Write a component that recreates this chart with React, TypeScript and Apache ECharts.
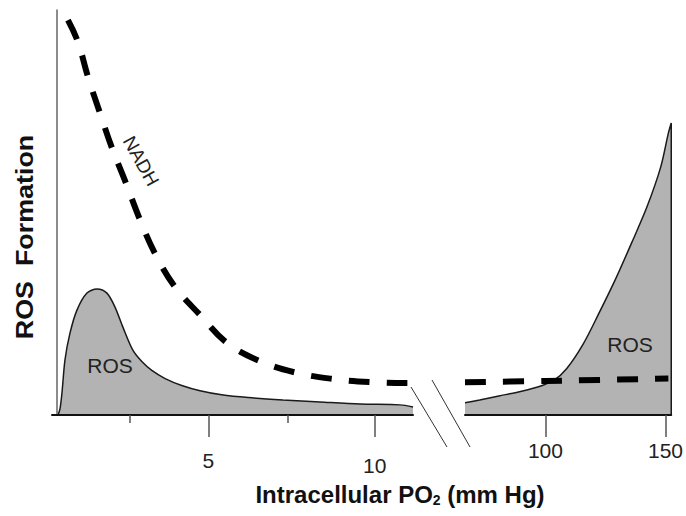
import React, { useEffect, useRef } from "react";
import * as echarts from "echarts";

// Left (low PO2) segment of the broken x axis, mm Hg
const rosLowPo2 = [0.48, 0.54, 0.6, 0.69, 0.84, 1.05, 1.35, 1.65, 1.95, 2.19, 2.43, 2.73, 3.0, 3.3, 3.7, 4.2, 4.75, 5.4, 6.2, 7.24, 8.36, 9.56, 10.76, 11.15];
const rosLowLevel = [0, 1.5, 5.5, 13.6, 20.2, 25.9, 30.1, 31.1, 30.1, 26.7, 21.7, 16.0, 13.2, 11.0, 9.0, 7.3, 6.0, 5.0, 4.3, 3.7, 3.2, 2.7, 2.5, 2.0];

// Right (high PO2) segment
const rosHighPo2 = [66.5, 72.6, 80.6, 88.7, 96.8, 103.6, 108.8, 115.7, 122.1, 129.0, 135.9, 142.3, 148.0, 151.2, 152.4, 152.4];
const rosHighLevel = [3.0, 3.7, 4.7, 5.7, 6.9, 8.6, 11.4, 17.5, 24.9, 33.3, 42.5, 51.4, 61.2, 69.6, 72.1, 0];

const nadhLowPo2 = [0.78, 1.08, 1.38, 1.74, 2.1, 2.52, 2.95, 3.4, 4.0, 4.75, 5.56, 6.55, 7.66, 8.75, 9.92, 11.15, 12.71];
const nadhLowLevel = [97.5, 92.1, 83.5, 74.6, 66.0, 57.3, 48.1, 39.8, 31.6, 24.7, 17.8, 13.3, 10.4, 8.9, 8.1, 7.9, 7.9];

const nadhHighPo2 = [66.5, 100, 151.2];
const nadhHighLevel = [8.1, 8.4, 9.0];

const lowTicks = [5, 10];
const lowMinorTicks = [2.64, 7.39];
const highTicks = [100, 150];

const FONT = 'Arial, "Liberation Sans", Helvetica, sans-serif';

const pairs = (xs: number[], ys: number[]) => xs.map((x, i) => [x, ys[i]]);

export default function App() {
  const ref = useRef<HTMLDivElement>(null);
  useEffect(() => {
    if (!ref.current) return;
    const chart = echarts.init(ref.current, null, { renderer: "svg" });
    const tickStyle = { color: "#555", width: 1.5 };
    chart.setOption({
      animation: false,
      backgroundColor: "#fff",
      grid: [
        { left: 52, top: 10, width: 361, height: 405 },
        { left: 465, top: 10, width: 213, height: 405 },
      ],
      xAxis: [
        {
          type: "value", gridIndex: 0, position: "bottom", min: 0.3, max: 11.15, z: 5,
          axisLine: { show: true, onZero: false, lineStyle: { color: "#111", width: 2 } },
          axisTick: { show: true, customValues: lowTicks, length: 22, lineStyle: tickStyle },
          axisLabel: {
            show: true, customValues: lowTicks, margin: 35, color: "#222", fontSize: 21, fontFamily: FONT,
            formatter: (v: number) => (v === lowTicks[1] ? "{b|" + v + "}" : "{a|" + v + "}"),
            rich: {
              a: { fontSize: 21, fontFamily: FONT, color: "#222" },
              b: { fontSize: 21, fontFamily: FONT, color: "#222", padding: [5, 0, 0, 0] },
            },
          },
          splitLine: { show: false },
        },
        {
          type: "value", gridIndex: 0, position: "bottom", min: 0.3, max: 11.15, z: 5,
          axisLine: { show: false, onZero: false },
          axisTick: { show: true, customValues: lowMinorTicks, length: 8, lineStyle: tickStyle },
          axisLabel: { show: false },
          splitLine: { show: false },
        },
        {
          type: "value", gridIndex: 1, position: "bottom", min: 66.5, max: 152.4, z: 5,
          axisLine: { show: true, onZero: false, lineStyle: { color: "#111", width: 2 } },
          axisTick: { show: true, customValues: highTicks, length: 22, lineStyle: tickStyle },
          axisLabel: { show: true, customValues: highTicks, margin: 25, color: "#222", fontSize: 21, fontFamily: FONT },
          splitLine: { show: false },
        },
      ],
      yAxis: [
        {
          type: "value", gridIndex: 0, min: 0, max: 100, offset: -5, z: 5,
          axisLine: { show: true, onZero: false, lineStyle: { color: "#666", width: 1.5 } },
          axisTick: { show: false }, axisLabel: { show: false }, splitLine: { show: false },
        },
        { type: "value", gridIndex: 1, min: 0, max: 100, show: false, splitLine: { show: false } },
      ],
      series: [
        {
          type: "line", xAxisIndex: 0, yAxisIndex: 0, data: pairs(rosLowPo2, rosLowLevel),
          smooth: 0.3, symbol: "none", z: 2,
          lineStyle: { color: "#1a1a1a", width: 1.5 },
          areaStyle: { color: "#b3b3b3", opacity: 1 },
        },
        {
          type: "line", xAxisIndex: 2, yAxisIndex: 1, data: pairs(rosHighPo2, rosHighLevel),
          smooth: 0.3, symbol: "none", z: 2,
          lineStyle: { color: "#1a1a1a", width: 1.5 },
          areaStyle: { color: "#b3b3b3", opacity: 1 },
        },
        {
          type: "line", xAxisIndex: 0, yAxisIndex: 0, data: pairs(nadhLowPo2, nadhLowLevel),
          smooth: 0.4, symbol: "none", clip: false, z: 4,
          lineStyle: { color: "#000", width: 6, type: [21, 17], cap: "butt" },
        },
        {
          type: "line", xAxisIndex: 2, yAxisIndex: 1, data: pairs(nadhHighPo2, nadhHighLevel),
          smooth: 0.3, symbol: "none", z: 4,
          lineStyle: { color: "#000", width: 6, type: [21, 17], cap: "butt" },
        },
      ],
      graphic: [
        { type: "line", shape: { x1: 411, y1: 387, x2: 447, y2: 447 }, style: { stroke: "#333", lineWidth: 1 }, z: 10 },
        { type: "line", shape: { x1: 432, y1: 380, x2: 470, y2: 447 }, style: { stroke: "#333", lineWidth: 1 }, z: 10 },
        {
          type: "text", x: 25, y: 237, rotation: Math.PI / 2, scaleX: 1.12, z: 10,
          style: { text: "ROS  Formation", font: "bold 24px " + FONT, fill: "#111", align: "center", verticalAlign: "middle" },
        },
        {
          type: "text", x: 400, y: 494, z: 10,
          style: {
            text: "{a|Intracellular PO}{s|2}{a| (mm Hg)}",
            align: "center", verticalAlign: "middle",
            rich: {
              a: { font: "bold 24px " + FONT, fill: "#111", lineHeight: 26 },
              s: { font: "bold 14px " + FONT, fill: "#111", verticalAlign: "bottom", lineHeight: 26, padding: [10, 0, 0, 0] },
            },
          },
        },
        {
          type: "text", x: 141, y: 161, rotation: -1.06, z: 10,
          style: { text: "NADH", font: "19px " + FONT, fill: "#222", align: "center", verticalAlign: "middle" },
        },
        {
          type: "text", x: 110, y: 365, z: 10,
          style: { text: "ROS", font: "21px " + FONT, fill: "#222", align: "center", verticalAlign: "middle" },
        },
        {
          type: "text", x: 630, y: 344, z: 10,
          style: { text: "ROS", font: "21px " + FONT, fill: "#222", align: "center", verticalAlign: "middle" },
        },
      ],
    });
    return () => chart.dispose();
  }, []);
  return <div ref={ref} style={{ position: "fixed", left: 0, top: 0, width: 686, height: 516, background: "#fff" }} />;
}
